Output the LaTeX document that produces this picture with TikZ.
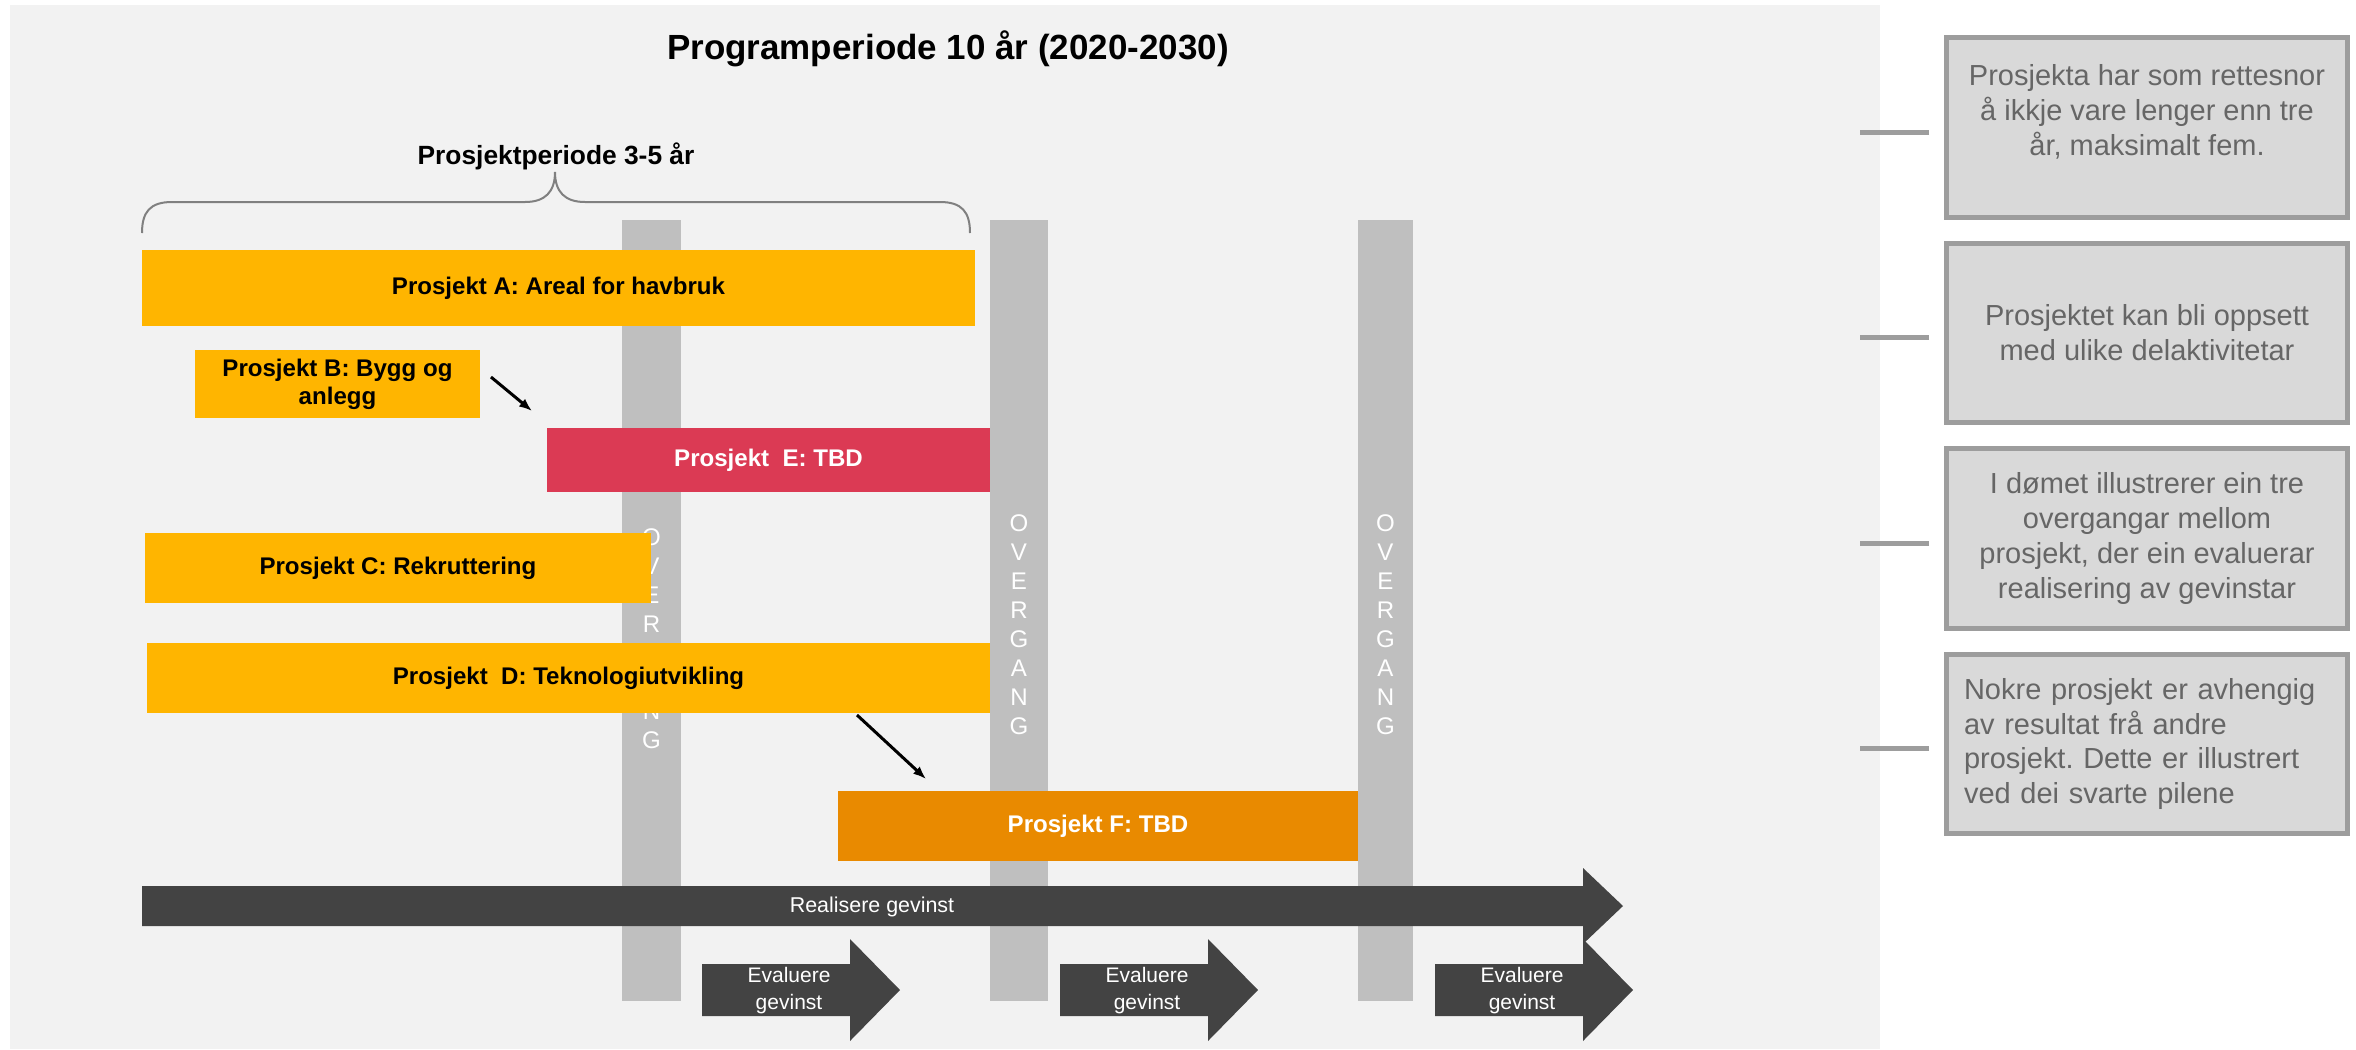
\documentclass[tikz,border=0pt]{standalone}
\usepackage{fontspec}
\setmainfont{Liberation Sans}
\frenchspacing
\usetikzlibrary{calc,arrows.meta}
\definecolor{panel}{HTML}{F2F2F2}
\definecolor{amber}{HTML}{FFB500}
\definecolor{tbdred}{HTML}{DB3A54}
\definecolor{tbdorange}{HTML}{E98A00}
\definecolor{darkarrow}{HTML}{434343}
\definecolor{bargray}{HTML}{BFBFBF}
\definecolor{notefill}{HTML}{D9D9D9}
\definecolor{noteline}{HTML}{9D9D9D}
\definecolor{notetext}{HTML}{666666}
\begin{document}
\begin{tikzpicture}[x=0.02cm,y=-0.02cm,
  every node/.style={inner sep=0pt,outer sep=0pt},
  proj/.style={fill=amber,align=center,font=\bfseries\fontsize{13.7}{15.9}\selectfont},
  ovtxt/.style={text=white,align=center,font=\fontsize{13.7}{16.5}\selectfont},
  evtxt/.style={text=white,align=center,font=\fontsize{11.95}{15.4}\selectfont},
  note/.style={fill=notefill,draw=noteline,line width=0.1cm,minimum width=8.02cm,
    minimum height=3.6cm,align=center,text=notetext,font=\fontsize{16.5}{19.9}\selectfont},
  tick/.style={draw=noteline,line width=0.1cm},
  dep/.style={-{Latex[length=0.26cm,width=0.2cm]},line width=0.06cm}]
\useasboundingbox (0,0) rectangle (2356,1049);
\fill[panel] (10,5) rectangle (1880,1049);

\node[font=\bfseries\fontsize{19.9}{24}\selectfont] (title) at (948,49) {Programperiode 10 år (2020-2030)};
\node[font=\bfseries\fontsize{15}{18}\selectfont] (period) at (556,156) {Prosjektperiode 3-5 år};
\draw[gray,line width=0.04cm] (142,233) .. controls (142,212) and (150,202) .. (172,202) -- (525,202)
  .. controls (545,202) and (555,192) .. (555,172) .. controls (555,192) and (565,202) .. (585,202)
  -- (940,202) .. controls (962,202) and (970,212) .. (970,233);

% overgangar
\foreach \x/\w/\ty [count=\i] in {622/59/639, 990/58/624.5, 1358/55/624.5} {
  \fill[bargray] (\x,220) rectangle ++(\w,781);
  \node[ovtxt] (ov\i) at (\x+\w/2,\ty) {O\\V\\E\\R\\G\\A\\N\\G};
}

% prosjekt
\node[proj,minimum width=16.66cm,minimum height=1.52cm] (pa) at (558.5,288) {Prosjekt A: Areal for havbruk};
\node[proj,minimum width=5.7cm,minimum height=1.36cm] (pb) at (337.5,384) {Prosjekt B: Bygg og\\anlegg};
\node[proj,fill=tbdred,text=white,minimum width=8.86cm,minimum height=1.28cm] (pe) at (768.5,460) {Prosjekt\ \ E: TBD};
\node[proj,minimum width=10.12cm,minimum height=1.4cm] (pc) at (398,568) {Prosjekt C: Rekruttering};
\node[proj,minimum width=16.86cm,minimum height=1.4cm] (pd) at (568.5,678) {Prosjekt\ \ D: Teknologiutvikling};
\node[proj,fill=tbdorange,text=white,minimum width=10.4cm,minimum height=1.4cm] (pf) at (1098,826) {Prosjekt F: TBD};

\draw[dep] ($(pb.east)+(11,-7)$) -- ($(pe.north west)+(-15,-17)$);
\draw[dep] ($(pd.south)+(288.5,2)$) -- ($(pf.north west)+(88,-12)$);

% gevinst
\fill[darkarrow] (142,886) -- (1583,886) -- (1583,868) -- (1623,906) -- (1583,944) -- (1583,926) -- (142,926) -- cycle;
\node[text=white,font=\fontsize{12.2}{14}\selectfont] (real) at (872,907) {Realisere gevinst};
\foreach \x [count=\i] in {702,1060,1435} {
  \fill[darkarrow] (\x,964) -- ++(148,0) -- ++(0,-25) -- ++(50,51) -- ++(-50,51) -- ++(0,-25) -- ++(-148,0) -- cycle;
  \node[evtxt] (ev\i) at (\x+87,991) {Evaluere\\gevinst};
}

% merknader
\node[note] (n1) at (2147,127.5) {Prosjekta har som rettesnor\\å ikkje vare lenger enn tre\\år, maksimalt fem.\\\mbox{}};
\node[note] (n2) at (2147,333) {Prosjektet kan bli oppsett\\med ulike delaktivitetar};
\node[note] (n3) at (2147,538.5) {I dømet illustrerer ein tre\\overgangar mellom\\prosjekt, der ein evaluerar\\realisering av gevinstar};
\node[note,align=left,text width=7.32cm] (n4) at (2147,744) {Nokre prosjekt er avhengig\\av resultat frå andre\\prosjekt. Dette er illustrert\\ved dei svarte pilene};
\foreach \n in {n1,n2,n3,n4}
  \draw[tick] ($(\n.west)+(-17.5,4.5)$) -- ++(-69,0);
\end{tikzpicture}
\end{document}
